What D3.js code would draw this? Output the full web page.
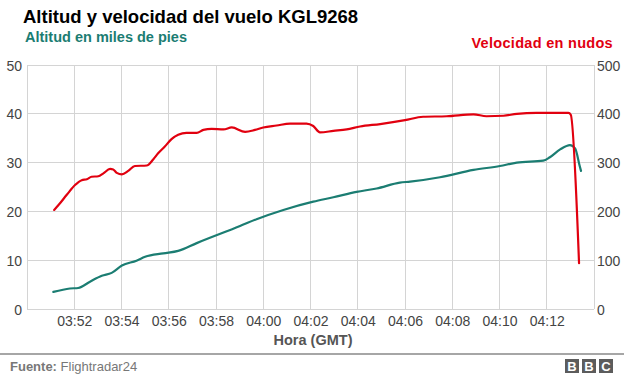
<!DOCTYPE html>
<html>
<head>
<meta charset="utf-8">
<script src="https://cdn.jsdelivr.net/npm/d3@7"></script>
<style>
  body { margin: 0; background: #fff; }
  svg { display: block; font-family: "Liberation Sans", Arial, Helvetica, sans-serif; }
</style>
</head>
<body>
<script>
// altitude (thousands of feet), left axis
const altTimes = ["03:51:07", "03:51:49", "03:52:10", "03:52:40", "03:53:10", "03:53:35", "03:54:01", "03:54:38",
    "03:55:00", "03:55:46", "03:56:24", "03:57:11", "03:59:01", "03:59:43", "04:00:51", "04:02:07", "04:02:58",
    "04:03:57", "04:04:48", "04:05:47", "04:06:13", "04:07:29", "04:08:54", "04:10:01", "04:10:44", "04:11:51",
    "04:12:08", "04:12:34", "04:12:59", "04:13:12", "04:13:24", "04:13:27"];
const altValues = [3.5, 4.2, 4.3, 5.6, 6.8, 7.4, 8.9, 9.9, 10.7, 11.4, 11.9, 13.5, 17.0, 18.4, 20.3, 22.0, 22.9,
    24.0, 24.7, 25.9, 26.1, 27.0, 28.5, 29.3, 30.0, 30.4, 31.1, 32.7, 33.6, 32.9, 29.2, 28.3];

// speed (knots), right axis
const speedTimes = ["03:51:09", "03:51:20", "03:51:41", "03:52:02", "03:52:19", "03:52:32", "03:52:44", "03:53:01",
    "03:53:14", "03:53:31", "03:53:39", "03:53:48", "03:54:01", "03:54:17", "03:54:34", "03:55:04", "03:55:21",
    "03:55:33", "03:55:50", "03:56:07", "03:56:24", "03:56:45", "03:57:11", "03:57:28", "03:57:49", "03:58:19",
    "03:58:40", "03:59:14", "03:59:39", "04:00:00", "04:00:34", "04:01:08", "04:01:50", "04:02:07", "04:02:24",
    "04:02:58", "04:03:32", "04:04:06", "04:04:57", "04:06:00", "04:06:46", "04:07:46", "04:08:54", "04:09:27",
    "04:10:10", "04:10:44", "04:11:34", "04:12:55", "04:13:01", "04:13:22"];
const speedValues = [203, 213, 234, 254, 264, 266, 271, 272, 278, 287, 286, 279, 276, 283, 293, 294, 307, 319,
    333, 348, 357, 361, 361, 367, 369, 368, 372, 363, 367, 372, 376, 380, 380, 375, 362, 365, 368, 374, 379, 387,
    394, 395, 399, 395, 396, 400, 402, 402, 398, 94];

const altTicks = [0, 10, 20, 30, 40, 50];
const speedTicks = [0, 100, 200, 300, 400, 500];
const timeTicks = ["03:50", "03:52", "03:54", "03:56", "03:58", "04:00", "04:02", "04:04", "04:06",
    "04:08", "04:10", "04:12", "04:14"];

const width = 624, height = 379;
const margin = { top: 65, right: 30, bottom: 70, left: 27 };
const red = "#e1000f", teal = "#1b7d72";

const parse = d3.timeParse("%H:%M:%S");
const parseTick = d3.timeParse("%H:%M");

var svg = d3.select("body").append("svg").attr("width", width).attr("height", height);

var x = d3.scaleTime()
    .domain([parseTick("03:50"), parseTick("04:14")])
    .range([margin.left, width - margin.right]);
var yAlt = d3.scaleLinear().domain([0, 50]).range([height - margin.bottom, margin.top]);
var ySpeed = d3.scaleLinear().domain([0, 500]).range([height - margin.bottom, margin.top]);

var tickDates = timeTicks.map(parseTick);

// grid
svg.append("g").selectAll("line").data(altTicks).enter().append("line")
    .attr("x1", margin.left).attr("x2", width - margin.right)
    .attr("y1", d => yAlt(d)).attr("y2", d => yAlt(d))
    .attr("stroke", "#d4d4d4").attr("stroke-width", 1).attr("shape-rendering", "crispEdges");
svg.append("g").selectAll("line").data(tickDates).enter().append("line")
    .attr("x1", d => x(d)).attr("x2", d => x(d))
    .attr("y1", margin.top).attr("y2", height - margin.bottom)
    .attr("stroke", "#d4d4d4").attr("stroke-width", 1).attr("shape-rendering", "crispEdges");

// axes
var leftAxis = svg.append("g").attr("transform", "translate(" + margin.left + ",0)")
    .call(d3.axisLeft(yAlt).tickValues(altTicks).tickSize(0).tickPadding(5));
var rightAxis = svg.append("g").attr("transform", "translate(" + (width - margin.right) + ",0)")
    .call(d3.axisRight(ySpeed).tickValues(speedTicks).tickSize(0).tickPadding(3));
var bottomAxis = svg.append("g").attr("transform", "translate(0," + (height - margin.bottom) + ")")
    .call(d3.axisBottom(x).tickValues(tickDates.slice(1, -1)).tickFormat(d3.timeFormat("%H:%M")).tickSize(0).tickPadding(7));

[leftAxis, rightAxis, bottomAxis].forEach(function (a) {
    a.select(".domain").remove();
    a.selectAll("text").attr("fill", "#444").style("font-size", "14px")
        .style("font-family", "\"Liberation Sans\", Arial, sans-serif");
});
leftAxis.selectAll("text").attr("dy", "0.36em");
rightAxis.selectAll("text").attr("dy", "0.36em");

// lines
var altLine = d3.line()
    .x((d, i) => x(parse(altTimes[i])))
    .y(d => yAlt(d))
    .curve(d3.curveMonotoneX);
var speedLine = d3.line()
    .x((d, i) => x(parse(speedTimes[i])))
    .y(d => ySpeed(d))
    .curve(d3.curveMonotoneX);

svg.append("path").datum(altValues).attr("d", altLine)
    .attr("fill", "none").attr("stroke", teal).attr("stroke-width", 2.2)
    .attr("stroke-linejoin", "round").attr("stroke-linecap", "round");
svg.append("path").datum(speedValues).attr("d", speedLine)
    .attr("fill", "none").attr("stroke", red).attr("stroke-width", 2.2)
    .attr("stroke-linejoin", "round").attr("stroke-linecap", "round");

// titles
svg.append("text").attr("x", 23).attr("y", 23)
    .style("font-size", "18.5px").style("font-weight", "bold").attr("fill", "#000")
    .text("Altitud y velocidad del vuelo KGL9268");
svg.append("text").attr("x", 25).attr("y", 42)
    .style("font-size", "14.5px").style("font-weight", "bold").attr("fill", teal)
    .text("Altitud en miles de pies");
svg.append("text").attr("x", 613).attr("y", 48).attr("text-anchor", "end")
    .style("font-size", "14.5px").style("font-weight", "bold").attr("fill", red)
    .style("letter-spacing", "0.3px")
    .text("Velocidad en nudos");
svg.append("text").attr("x", 313).attr("y", 345).attr("text-anchor", "middle")
    .style("font-size", "14.5px").style("font-weight", "bold").attr("fill", "#555")
    .text("Hora (GMT)");

// footer
svg.append("line").attr("x1", 0).attr("x2", width).attr("y1", 354).attr("y2", 354)
    .attr("stroke", "#888").attr("stroke-width", 1.5);
var src = svg.append("text").attr("x", 10).attr("y", 371).style("font-size", "13px").attr("fill", "#777");
src.append("tspan").style("font-weight", "bold").text("Fuente: ");
src.append("tspan").text("Flightradar24");

var bbc = svg.append("g").attr("transform", "translate(565,359)");
["B", "B", "C"].forEach(function (l, i) {
    bbc.append("rect").attr("x", i * 17).attr("y", 0).attr("width", 14).attr("height", 14).attr("fill", "#5c5c5c");
    bbc.append("text").attr("x", i * 17 + 7).attr("y", 12).attr("text-anchor", "middle")
        .style("font-size", "13px").style("font-weight", "bold").attr("fill", "#fff").text(l);
});
</script>
</body>
</html>
